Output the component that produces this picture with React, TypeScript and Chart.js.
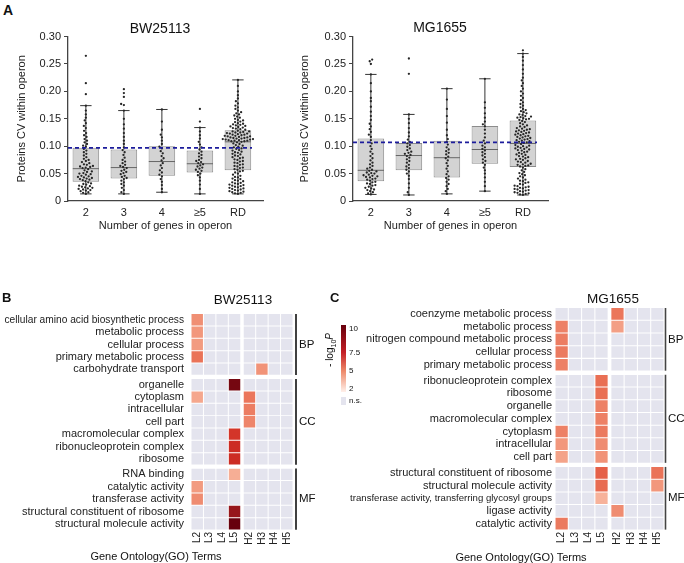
import React, { useEffect, useRef } from 'react';
import { Chart, registerables } from 'chart.js';
Chart.register(...registerables);

const FONT = "'Liberation Sans', Arial, Helvetica, sans-serif";

// ---------- Panel A data ----------
const GROUP_LABELS = ['2', '3', '4', '≥5', 'RD'];
const Y_TICKS = [0, 0.05, 0.1, 0.15, 0.2, 0.25, 0.3];

const BW_Q1 = [0.035, 0.041, 0.046, 0.052, 0.056];
const BW_MED = [0.059, 0.061, 0.072, 0.068, 0.108];
const BW_Q3 = [0.097, 0.094, 0.1, 0.092, 0.129];
const BW_LO = [0.013, 0.013, 0.016, 0.013, 0.013];
const BW_HI = [0.174, 0.165, 0.167, 0.134, 0.221];
const BW_BASELINE = 0.097;

const BW_G2 = [0.013,0.015,0.016,0.018,0.019,0.02,0.021,0.022,0.023,0.024,0.025,0.026,0.027,0.028,0.03,0.031,0.032,0.034,
  0.036,0.038,0.039,0.04,0.041,0.042,0.043,0.044,0.045,0.046,0.048,0.049,0.05,0.051,0.053,0.054,0.056,0.058,
  0.06,0.061,0.062,0.063,0.064,0.066,0.067,0.069,0.071,0.073,0.075,0.077,0.08,0.083,0.086,0.089,0.092,0.095,
  0.099,0.101,0.104,0.107,0.11,0.113,0.117,0.12,0.124,0.128,0.133,0.137,0.142,0.147,0.152,0.158,0.165,0.174,0.195,0.215,0.265];
const BW_G3 = [0.013,0.016,0.02,0.024,0.028,0.031,0.034,0.037,0.04,0.042,0.044,0.046,0.049,0.051,0.053,0.055,0.057,0.06,
  0.062,0.064,0.066,0.069,0.072,0.075,0.079,0.084,0.089,0.093,0.098,0.104,0.11,0.117,0.124,0.132,0.14,0.15,0.165,
  0.175,0.177,0.19,0.197,0.204];
const BW_G4 = [0.016,0.022,0.029,0.035,0.04,0.045,0.048,0.052,0.056,0.06,0.065,0.069,0.074,0.078,0.082,0.087,0.091,
  0.096,0.099,0.104,0.11,0.116,0.121,0.13,0.145,0.167];
const BW_G5 = [0.013,0.022,0.03,0.037,0.043,0.047,0.05,0.053,0.055,0.057,0.059,0.061,0.063,0.065,0.067,0.069,0.071,
  0.073,0.075,0.078,0.081,0.084,0.087,0.09,0.094,0.098,0.103,0.108,0.114,0.12,0.127,0.134,0.145,0.168];
const BW_RD = [0.013,0.014,0.015,0.016,0.017,0.018,0.019,0.02,0.021,0.022,0.023,0.024,0.025,0.026,0.027,0.028,0.029,0.03,
  0.031,0.032,0.033,0.034,0.036,0.037,0.038,0.04,0.041,0.043,0.044,0.046,0.048,0.05,0.052,0.054,0.055,
  0.057,0.058,0.06,0.061,0.063,0.064,0.066,0.067,0.069,0.07,0.072,0.073,0.075,0.076,0.078,0.079,0.08,0.082,0.083,
  0.085,0.086,0.088,0.089,0.09,0.092,0.093,0.095,0.096,0.098,0.099,0.101,0.102,0.104,0.105,0.107,
  0.108,0.109,0.109,0.11,0.11,0.111,0.111,0.112,0.112,0.113,0.113,0.114,0.114,0.115,0.115,0.116,0.116,0.117,0.118,
  0.118,0.119,0.119,0.12,0.121,0.121,0.122,0.123,0.123,0.124,0.125,0.125,0.126,0.127,0.127,0.128,
  0.13,0.131,0.132,0.133,0.134,0.135,0.136,0.137,0.138,0.139,0.14,0.141,0.142,0.144,0.145,0.147,0.148,0.15,0.152,
  0.154,0.156,0.158,0.16,0.162,0.165,0.168,0.171,0.174,0.178,0.182,0.187,0.193,0.2,0.21,0.221];

const MG_Q1 = [0.036, 0.056, 0.043, 0.068, 0.062];
const MG_MED = [0.056, 0.083, 0.079, 0.094, 0.105];
const MG_Q3 = [0.114, 0.106, 0.11, 0.137, 0.147];
const MG_LO = [0.012, 0.011, 0.013, 0.018, 0.011];
const MG_HI = [0.231, 0.158, 0.205, 0.223, 0.269];
const MG_BASELINE = 0.107;

const MG_G2 = [0.012,0.014,0.016,0.018,0.02,0.021,0.023,0.024,0.026,0.028,0.029,0.031,0.032,0.034,0.035,
  0.037,0.039,0.04,0.041,0.043,0.044,0.045,0.046,0.047,0.048,0.05,0.051,0.052,0.054,0.055,
  0.057,0.059,0.061,0.064,0.067,0.07,0.074,0.078,0.082,0.086,0.09,0.095,0.1,0.105,0.111,
  0.117,0.121,0.126,0.131,0.136,0.141,0.148,0.155,0.163,0.172,0.182,0.188,0.2,0.215,0.231,0.25,0.255,0.258];
const MG_G3 = [0.011,0.016,0.024,0.032,0.04,0.046,0.05,0.054,0.057,0.06,0.063,0.066,0.07,0.073,0.076,0.079,0.082,
  0.084,0.086,0.088,0.09,0.093,0.096,0.099,0.102,0.105,0.108,0.112,0.118,0.125,0.133,0.142,0.15,0.158,0.232,0.26];
const MG_G4 = [0.013,0.018,0.022,0.027,0.031,0.035,0.039,0.042,0.045,0.049,0.054,0.059,0.064,0.069,0.074,0.078,
  0.081,0.085,0.088,0.091,0.094,0.098,0.103,0.108,0.113,0.12,0.13,0.143,0.155,0.168,0.185,0.205];
const MG_G5 = [0.018,0.027,0.035,0.043,0.05,0.056,0.061,0.066,0.07,0.073,0.076,0.08,0.083,0.086,0.089,0.092,
  0.095,0.098,0.101,0.105,0.11,0.116,0.123,0.13,0.136,0.14,0.145,0.152,0.16,0.17,0.18,0.223];
const MG_RD = [0.011,0.012,0.013,0.014,0.015,0.016,0.017,0.018,0.019,0.02,0.021,0.022,0.023,0.024,0.025,0.026,0.027,
  0.028,0.03,0.031,0.033,0.034,0.036,0.037,0.039,0.041,0.043,0.045,0.047,0.049,0.051,0.053,0.056,0.058,0.061,
  0.063,0.064,0.065,0.066,0.067,0.068,0.07,0.071,0.072,0.073,0.075,0.076,0.077,0.078,0.08,0.081,0.082,0.084,0.085,
  0.086,0.088,0.089,0.09,0.092,0.093,0.094,0.095,0.096,0.097,0.098,0.099,0.1,0.101,0.102,0.104,
  0.106,0.107,0.108,0.109,0.11,0.111,0.112,0.113,0.114,0.115,0.116,0.117,0.118,0.119,0.12,0.121,0.122,0.123,0.124,
  0.125,0.126,0.127,0.128,0.129,0.13,0.131,0.132,0.133,0.135,0.136,0.138,0.14,0.142,0.144,0.146,
  0.148,0.149,0.15,0.151,0.152,0.153,0.154,0.155,0.157,0.158,0.16,0.162,0.164,0.166,0.168,0.171,0.174,0.177,0.18,
  0.184,0.188,0.192,0.196,0.2,0.205,0.21,0.215,0.22,0.225,0.232,0.24,0.248,0.256,0.263,0.269,0.275];

// ---------- Panels B/C data (-log10 P; 0 = n.s.) ----------
const HM_COLS = ['L2', 'L3', 'L4', 'L5', 'H2', 'H3', 'H4', 'H5'];

const BW_BP_TERMS = ['cellular amino acid biosynthetic process', 'metabolic process', 'cellular process',
  'primary metabolic process', 'carbohydrate transport'];
const BW_BP_P = [
  [4.6, 0, 0, 0, 0, 0, 0, 0],
  [4.4, 0, 0, 0, 0, 0, 0, 0],
  [4.3, 0, 0, 0, 0, 0, 0, 0],
  [5.4, 0, 0, 0, 0, 0, 0, 0],
  [0, 0, 0, 0, 0, 4.5, 0, 0],
];
const BW_CC_TERMS = ['organelle', 'cytoplasm', 'intracellular', 'cell part', 'macromolecular complex',
  'ribonucleoprotein complex', 'ribosome'];
const BW_CC_P = [
  [0, 0, 0, 9.7, 0, 0, 0, 0],
  [4.0, 0, 0, 0, 5.3, 0, 0, 0],
  [0, 0, 0, 0, 5.1, 0, 0, 0],
  [0, 0, 0, 0, 4.9, 0, 0, 0],
  [0, 0, 0, 7.3, 0, 0, 0, 0],
  [0, 0, 0, 7.6, 0, 0, 0, 0],
  [0, 0, 0, 7.6, 0, 0, 0, 0],
];
const BW_MF_TERMS = ['RNA binding', 'catalytic activity', 'transferase activity',
  'structural constituent of ribosome', 'structural molecule activity'];
const BW_MF_P = [
  [0, 0, 0, 3.8, 0, 0, 0, 0],
  [4.3, 0, 0, 0, 0, 0, 0, 0],
  [4.7, 0, 0, 0, 0, 0, 0, 0],
  [0, 0, 0, 9.0, 0, 0, 0, 0],
  [0, 0, 0, 10, 0, 0, 0, 0],
];

const MG_BP_TERMS = ['coenzyme metabolic process', 'metabolic process', 'nitrogen compound metabolic process',
  'cellular process', 'primary metabolic process'];
const MG_BP_P = [
  [0, 0, 0, 0, 5.3, 0, 0, 0],
  [5.0, 0, 0, 0, 4.2, 0, 0, 0],
  [5.1, 0, 0, 0, 0, 0, 0, 0],
  [5.2, 0, 0, 0, 0, 0, 0, 0],
  [5.0, 0, 0, 0, 0, 0, 0, 0],
];
const MG_CC_TERMS = ['ribonucleoprotein complex', 'ribosome', 'organelle', 'macromolecular complex',
  'cytoplasm', 'intracellular', 'cell part'];
const MG_CC_P = [
  [0, 0, 0, 5.5, 0, 0, 0, 0],
  [0, 0, 0, 5.5, 0, 0, 0, 0],
  [0, 0, 0, 5.0, 0, 0, 0, 0],
  [0, 0, 0, 5.0, 0, 0, 0, 0],
  [5.0, 0, 0, 5.2, 0, 0, 0, 0],
  [4.4, 0, 0, 4.7, 0, 0, 0, 0],
  [4.1, 0, 0, 4.5, 0, 0, 0, 0],
];
const MG_MF_TERMS = ['structural constituent of ribosome', 'structural molecule activity',
  'transferase activity, transferring glycosyl groups', 'ligase activity', 'catalytic activity'];
const MG_MF_P = [
  [0, 0, 0, 6.0, 0, 0, 0, 5.4],
  [0, 0, 0, 5.6, 0, 0, 0, 4.4],
  [0, 0, 0, 3.7, 0, 0, 0, 0],
  [0, 0, 0, 0, 4.7, 0, 0, 0],
  [5.2, 0, 0, 0, 0, 0, 0, 0],
];

const COLORBAR_TICKS = ['10', '7.5', '5', '2'];

// ---------- helpers ----------
const NS_COLOR = '#e4e4ee';
const CMAP: [number, number[]][] = [
  [2, [254, 236, 228]], [3.5, [248, 186, 162]], [4.5, [241, 147, 120]], [5.5, [233, 111, 84]],
  [6.5, [224, 80, 60]], [7.5, [208, 46, 36]], [9, [150, 22, 27]], [10, [103, 0, 13]],
];
function cellColor(v: number) {
  if (!v) return NS_COLOR;
  if (v <= CMAP[0][0]) return `rgb(${CMAP[0][1].join(',')})`;
  for (let i = 1; i < CMAP.length; i++) {
    if (v <= CMAP[i][0]) {
      const [a, ca] = CMAP[i - 1];
      const [b, cb] = CMAP[i];
      const t = (v - a) / (b - a);
      const c = ca.map((x, k) => Math.round(x + (cb[k] - x) * t));
      return `rgb(${c.join(',')})`;
    }
  }
  return `rgb(${CMAP[CMAP.length - 1][1].join(',')})`;
}

function swarm(values: number[], group: number, pxY: number, pxX: number, d: number) {
  const sorted = [...values].sort((a, b) => a - b);
  const placed: { x: number; y: number }[] = [];
  const out: { x: number; y: number }[] = [];
  for (const v of sorted) {
    const y = v * pxY;
    const forb: [number, number][] = [];
    for (const p of placed) {
      const dy = Math.abs(p.y - y);
      if (dy < d) {
        const w = Math.sqrt(d * d - dy * dy);
        forb.push([p.x - w, p.x + w]);
      }
    }
    const cands = [0];
    for (const [a, b] of forb) cands.push(a, b);
    cands.sort((a, b) => Math.abs(a) - Math.abs(b));
    let xo = 0;
    for (const c of cands) {
      if (forb.every(([a, b]) => c <= a + 1e-6 || c >= b - 1e-6)) { xo = c; break; }
    }
    placed.push({ x: xo, y });
    out.push({ x: group + xo / pxX, y: v });
  }
  return out;
}

function boxConfig(q1: number[], med: number[], q3: number[], lo: number[], hi: number[],
  groups: number[][], baseline: number, titlePad: number): any {
  const whiskers: any[] = [];
  const medians: any[] = [];
  GROUP_LABELS.forEach((_, i) => {
    whiskers.push({ x: i, y: lo[i] }, { x: i, y: q1[i] }, { x: i, y: null });
    whiskers.push({ x: i, y: q3[i] }, { x: i, y: hi[i] }, { x: i, y: null });
    whiskers.push({ x: i - 0.15, y: lo[i] }, { x: i + 0.15, y: lo[i] }, { x: i, y: null });
    whiskers.push({ x: i - 0.15, y: hi[i] }, { x: i + 0.15, y: hi[i] }, { x: i, y: null });
    medians.push({ x: i - 0.345, y: med[i] }, { x: i + 0.345, y: med[i] }, { x: i, y: null });
  });
  const points: any[] = [];
  groups.forEach((g, i) => points.push(...swarm(g, i, 553, 38.4, 3.0)));
  return {
    type: 'bar',
    data: {
      datasets: [
        {
          type: 'bar', data: GROUP_LABELS.map((_, i) => ({ x: i, y: [q1[i], q3[i]] })),
          backgroundColor: '#d3d3d3', borderColor: '#8c8c8c', borderWidth: 1, borderSkipped: false,
          barPercentage: 0.7, categoryPercentage: 1, order: 5,
        },
        {
          type: 'scatter', data: whiskers, showLine: true, spanGaps: false, borderColor: '#333',
          borderWidth: 1, pointRadius: 0, order: 4,
        },
        {
          type: 'scatter', data: medians, showLine: true, spanGaps: false, borderColor: '#666',
          borderWidth: 1, pointRadius: 0, order: 3,
        },
        {
          type: 'scatter', data: points, pointRadius: 1.15, backgroundColor: '#262626', borderWidth: 0, order: 2,
        },
        {
          type: 'scatter', data: [{ x: -0.47, y: baseline }, { x: 4.37, y: baseline }], showLine: true,
          borderColor: '#1c1c9c', borderWidth: 1.6, borderDash: [4, 3], pointRadius: 0, order: 1,
        },
      ],
    },
    options: {
      responsive: false, animation: false, events: [], devicePixelRatio: 1,
      layout: { padding: { top: 8, right: 5, left: 0, bottom: 0 } },
      plugins: { legend: { display: false }, tooltip: { enabled: false }, title: { display: false } },
      scales: {
        x: {
          type: 'linear', min: -0.47, max: 4.66, offset: false,
          afterBuildTicks: (s: any) => { s.ticks = GROUP_LABELS.map((_, i) => ({ value: i })); },
          afterFit: (s: any) => { s.height = 32; },
          ticks: { callback: (_v: any, i: number) => GROUP_LABELS[i], font: { family: FONT, size: 11 }, color: '#222', padding: 5 },
          grid: { display: false, drawTicks: false },
          border: { display: true, color: '#444', width: 1.3 },
          title: { display: true, text: 'Number of genes in operon', font: { family: FONT, size: 11 }, color: '#222', padding: { top: 0, bottom: 0 } },
        },
        y: {
          type: 'linear', min: 0, max: 0.3,
          afterBuildTicks: (s: any) => { s.ticks = Y_TICKS.map((v) => ({ value: v })); },
          afterFit: (s: any) => { s.width = 68; },
          ticks: { callback: (v: number) => (v === 0 ? '0' : v.toFixed(2)), font: { family: FONT, size: 11 }, color: '#222', padding: 3 },
          grid: { display: true, drawOnChartArea: false, drawTicks: true, tickLength: 4, color: '#444' },
          border: { display: true, color: '#444', width: 1.3 },
          title: { display: true, text: 'Proteins CV within operon', font: { family: FONT, size: 11 }, color: '#222', padding: { top: titlePad, bottom: 0 } },
        },
      },
    },
  };
}

const COL_GAP = 0.2;
const GROUP_GAP = 0.26;
const colPos = (i: number) => i + (i >= 4 ? COL_GAP : 0);

const bracketPlugin = {
  id: 'groupBrackets',
  afterDraw(chart: any, _args: any, opts: any) {
    const { ctx, chartArea, scales } = chart;
    const y = scales.y;
    ctx.save();
    for (const g of opts.groups) {
      const top = y.getPixelForValue(g.start - 0.47);
      const bot = y.getPixelForValue(g.end + 0.47);
      const x = chartArea.right + opts.offset;
      ctx.strokeStyle = opts.color;
      ctx.lineWidth = 1.6;
      ctx.beginPath();
      ctx.moveTo(x, top);
      ctx.lineTo(x, bot);
      ctx.stroke();
      ctx.fillStyle = '#111';
      ctx.font = `11.5px ${FONT}`;
      ctx.textAlign = 'left';
      ctx.textBaseline = 'middle';
      ctx.fillText(g.label, x + opts.labelGap, (top + bot) / 2);
    }
    ctx.restore();
  },
};

function heatConfig(groups: { label: string; terms: string[]; values: number[][] }[],
  yWidth: number, padRight: number, tickPad: number, fontFor: (t: string) => number,
  bracketOffset: number, bracketColor: string, labelGap: number): any {
  const rowPos: number[] = [];
  const rowLabels: string[] = [];
  const cells: any[] = [];
  const colors: string[] = [];
  const ranges: any[] = [];
  let pos = 0;
  groups.forEach((g) => {
    const start = pos;
    g.terms.forEach((t, ri) => {
      rowPos.push(pos);
      rowLabels.push(t);
      g.values[ri].forEach((v, ci) => {
        const c = colPos(ci);
        cells.push({ y: pos, x: [c - 0.46, c + 0.46] });
        colors.push(cellColor(v));
      });
      pos += 1;
    });
    ranges.push({ label: g.label, start, end: pos - 1 });
    pos += GROUP_GAP;
  });
  const last = rowPos[rowPos.length - 1];
  return {
    type: 'bar',
    data: {
      datasets: [{
        data: cells, backgroundColor: colors, borderWidth: 0, barPercentage: 0.92, categoryPercentage: 1,
      }],
    },
    plugins: [bracketPlugin],
    options: {
      indexAxis: 'y', responsive: false, animation: false, events: [], devicePixelRatio: 1,
      layout: { padding: { top: 8, right: padRight, left: 0, bottom: 0 } },
      plugins: {
        legend: { display: false }, tooltip: { enabled: false },
        groupBrackets: { groups: ranges, offset: bracketOffset, color: bracketColor, labelGap },
      },
      scales: {
        x: {
          type: 'linear', min: -0.5, max: colPos(7) + 0.5, offset: false,
          afterBuildTicks: (s: any) => { s.ticks = HM_COLS.map((_, i) => ({ value: colPos(i) })); },
          afterFit: (s: any) => { s.height = 22; },
          ticks: { callback: (_v: any, i: number) => HM_COLS[i], minRotation: 90, maxRotation: 90, autoSkip: false,
            font: { family: FONT, size: 10 }, color: '#222', padding: 2 },
          grid: { display: false, drawTicks: false },
          border: { display: false },
        },
        y: {
          type: 'linear', reverse: true, min: -0.5, max: last + 0.5, offset: false,
          afterBuildTicks: (s: any) => { s.ticks = rowPos.map((v) => ({ value: v })); },
          afterFit: (s: any) => { s.width = yWidth; },
          ticks: {
            callback: (_v: any, i: number) => rowLabels[i], autoSkip: false, color: '#222', padding: tickPad,
            font: (ctx: any) => ({ family: FONT, size: fontFor(rowLabels[ctx.index] || '') }),
          },
          grid: { display: false, drawTicks: false },
          border: { display: false },
        },
      },
    },
  };
}

function ChartCanvas({ left, top, width, height, make }: any) {
  const ref = useRef<HTMLCanvasElement>(null);
  useEffect(() => {
    const chart = new Chart(ref.current as HTMLCanvasElement, make());
    return () => chart.destroy();
  }, []);
  return <canvas ref={ref} width={width} height={height}
    style={{ position: 'absolute', left, top, width, height }} />;
}

function Txt({ x, y, size = 11, bold = false, children, align = 'center' }: any) {
  const tx = align === 'center' ? '-50%' : align === 'right' ? '-100%' : '0';
  return (
    <div style={{
      position: 'absolute', left: x, top: y, transform: `translate(${tx}, -50%)`, fontSize: size,
      fontWeight: bold ? 'bold' : 'normal', whiteSpace: 'nowrap', lineHeight: 1, color: '#111',
    }}>{children}</div>
  );
}

export default function App() {
  const bwBox = () => boxConfig(BW_Q1, BW_MED, BW_Q3, BW_LO, BW_HI, [BW_G2, BW_G3, BW_G4, BW_G5, BW_RD], BW_BASELINE, 15);
  const mgBox = () => boxConfig(MG_Q1, MG_MED, MG_Q3, MG_LO, MG_HI, [MG_G2, MG_G3, MG_G4, MG_G5, MG_RD], MG_BASELINE, 13);
  const bwHeat = () => heatConfig([
    { label: 'BP', terms: BW_BP_TERMS, values: BW_BP_P },
    { label: 'CC', terms: BW_CC_TERMS, values: BW_CC_P },
    { label: 'MF', terms: BW_MF_TERMS, values: BW_MF_P },
  ], 191, 30, 7, (t) => (t.length > 38 ? 10.2 : 11), 3, '#111', 3);
  const mgHeat = () => heatConfig([
    { label: 'BP', terms: MG_BP_TERMS, values: MG_BP_P },
    { label: 'CC', terms: MG_CC_TERMS, values: MG_CC_P },
    { label: 'MF', terms: MG_MF_TERMS, values: MG_MF_P },
  ], 215, 20, 3, (t) => (t.length > 40 ? 9.6 : 11), 1.5, '#444', 2.5);

  const cbarTickY = [329, 352.7, 371, 389];
  return (
    <div style={{ position: 'absolute', left: 0, top: 0, width: 684, height: 563, background: '#fff',
      fontFamily: FONT, overflow: 'hidden' }}>
      <ChartCanvas left={0} top={27} width={268} height={206} make={bwBox} />
      <ChartCanvas left={285} top={27} width={268} height={206} make={mgBox} />
      <ChartCanvas left={0} top={300} width={323} height={252} make={bwHeat} />
      <ChartCanvas left={340} top={298} width={344} height={254} make={mgHeat} />

      <Txt x={3} y={10} size={14} bold align="left">A</Txt>
      <Txt x={160} y={28} size={14}>BW25113</Txt>
      <Txt x={440} y={27} size={14}>MG1655</Txt>

      <Txt x={2} y={297} size={13} bold align="left">B</Txt>
      <Txt x={330} y={297} size={13} bold align="left">C</Txt>
      <Txt x={243} y={300} size={13.5}>BW25113</Txt>
      <Txt x={613} y={299} size={13.5}>MG1655</Txt>
      <Txt x={156} y={556} size={11}>Gene Ontology(GO) Terms</Txt>
      <Txt x={521} y={557} size={11}>Gene Ontology(GO) Terms</Txt>

      {/* colour bar legend */}
      <div style={{ position: 'absolute', left: 341, top: 325, width: 4.5, height: 67,
        background: 'linear-gradient(to bottom, #67000d 0%, #c41f26 41%, #ee8a6a 69%, #fff0ea 100%)' }} />
      <div style={{ position: 'absolute', left: 341, top: 397, width: 5, height: 8, background: NS_COLOR }} />
      {COLORBAR_TICKS.map((t, i) => (
        <Txt key={t} x={349} y={cbarTickY[i]} size={8} align="left">{t}</Txt>
      ))}
      <Txt x={349} y={401} size={8} align="left">n.s.</Txt>
      <div style={{ position: 'absolute', left: 331, top: 350, transform: 'translate(-50%, -50%) rotate(-90deg)',
        fontSize: 10, whiteSpace: 'nowrap', lineHeight: 1, color: '#111' }}>
        - log<sub style={{ fontSize: 7 }}>10</sub><i>P</i>
      </div>
    </div>
  );
}
